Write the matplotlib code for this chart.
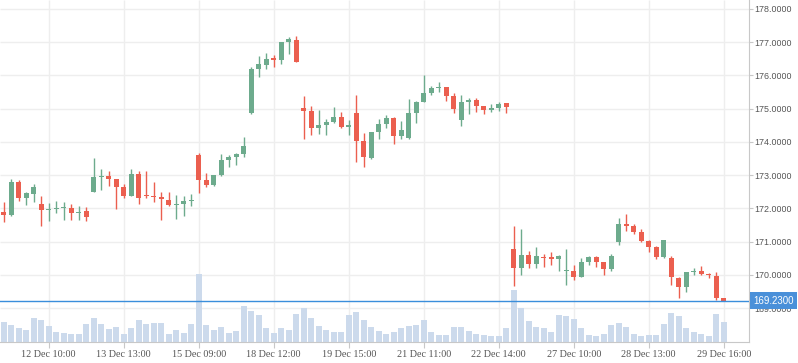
#%% Importing the Library

import matplotlib.pyplot as plt
import matplotlib.transforms as mtransforms
import numpy as np

#%% The Data (one candle per bar)

opens = [171.88, 171.79, 172.80, 172.33, 172.45, 172.14, 171.95, 171.97, 172.00, 172.02,
         171.85, 171.93, 172.51, 172.96, 172.98, 172.89, 172.65, 172.39, 173.04, 172.42,
         172.38, 172.35, 172.26, 172.12, 172.15, 172.23, 173.61, 172.86, 172.72, 173.01,
         173.46, 173.55, 173.64, 174.88, 176.19, 176.33, 176.52, 176.48, 177.00, 177.07,
         175.02, 174.94, 174.43, 174.51, 174.60, 174.75, 174.46, 174.87, 174.03, 173.51,
         174.30, 174.54, 174.72, 174.18, 174.12, 174.87, 175.20, 175.47, 175.63, 175.65,
         175.38, 174.66, 175.20, 175.26, 175.08, 174.97, 175.02, 175.16, 170.78, 170.22,
         170.60, 170.33, 170.54, 170.54, 170.48, 170.11, 170.12, 169.95, 170.39, 170.54,
         170.38, 170.18, 171.00, 171.53, 171.47, 171.29, 171.03, 170.84, 170.55, 170.51,
         169.91, 169.65, 170.10, 170.12, 170.04, 169.97, 169.31]
highs = [172.21, 172.89, 172.87, 172.50, 172.74, 172.38, 172.17, 172.23, 172.21, 172.14,
         172.08, 172.05, 173.52, 173.19, 173.13, 172.89, 172.74, 173.19, 173.13, 173.13,
         172.80, 172.50, 172.50, 172.41, 172.38, 172.44, 173.67, 173.07, 173.01, 173.64,
         173.61, 173.67, 174.15, 176.25, 176.59, 176.68, 176.62, 177.00, 177.17, 177.19,
         175.38, 175.08, 174.96, 174.69, 175.05, 174.90, 174.66, 175.41, 174.27, 174.30,
         174.69, 174.81, 174.75, 174.63, 175.29, 175.23, 176.01, 175.68, 175.80, 175.65,
         175.47, 175.41, 175.32, 175.32, 175.08, 175.14, 175.20, 175.16, 171.48, 171.38,
         170.72, 170.84, 170.63, 170.69, 170.60, 170.78, 170.30, 170.51, 170.57, 170.57,
         170.40, 170.63, 171.71, 171.83, 171.53, 171.38, 171.06, 170.87, 171.06, 170.57,
         169.94, 170.09, 170.21, 170.27, 170.06, 170.09, 169.31]
lows = [171.58, 171.78, 172.23, 172.09, 172.20, 171.46, 171.61, 171.85, 171.66, 171.64,
        171.66, 171.61, 172.51, 172.56, 172.69, 171.99, 172.33, 172.37, 172.15, 172.33,
        172.21, 171.66, 172.06, 171.68, 171.78, 172.06, 172.48, 172.66, 172.69, 172.99,
        173.26, 173.32, 173.55, 174.84, 175.95, 176.20, 176.25, 176.35, 176.65, 176.41,
        174.10, 174.22, 174.25, 174.21, 174.57, 174.42, 174.21, 173.40, 173.26, 173.48,
        174.09, 174.42, 173.95, 174.09, 174.09, 174.57, 175.20, 175.42, 175.50, 175.23,
        174.87, 174.48, 174.84, 174.90, 174.84, 174.90, 174.93, 174.88, 169.68, 170.01,
        170.21, 170.21, 170.24, 170.30, 170.12, 169.70, 169.85, 169.95, 170.30, 170.24,
        170.00, 170.12, 170.91, 171.33, 171.23, 171.00, 170.70, 170.48, 170.52, 169.70,
        169.32, 169.50, 170.00, 170.00, 169.91, 169.25, 169.23]
closes = [171.79, 172.80, 172.33, 172.47, 172.65, 171.96, 171.97, 171.99, 172.02, 171.85,
          171.90, 171.73, 172.95, 172.99, 172.90, 172.66, 172.39, 173.04, 172.33, 172.38,
          172.35, 172.30, 172.12, 172.15, 172.23, 172.25, 172.87, 172.72, 173.01, 173.46,
          173.55, 173.65, 173.88, 176.19, 176.34, 176.50, 176.48, 177.00, 177.10, 176.41,
          174.94, 174.43, 174.51, 174.60, 174.75, 174.45, 174.51, 174.04, 173.56, 174.30,
          174.54, 174.72, 174.18, 174.36, 174.87, 175.20, 175.47, 175.62, 175.65, 175.39,
          175.00, 175.20, 175.26, 175.09, 174.97, 175.02, 175.13, 175.06, 170.22, 170.60,
          170.33, 170.57, 170.51, 170.48, 170.57, 170.13, 169.95, 170.39, 170.54, 170.39,
          170.18, 170.57, 171.53, 171.48, 171.29, 171.03, 170.84, 170.55, 171.06, 169.95,
          169.65, 170.09, 170.12, 170.03, 170.01, 169.32, 169.23]
volumes = [20, 17, 14, 12, 24, 22, 16, 10, 9, 8,
           8, 18, 24, 18, 13, 15, 8, 14, 22, 18,
           19, 19, 8, 12, 9, 18, 68, 17, 12, 15,
           9, 11, 36, 31, 27, 14, 9, 14, 12, 28,
           34, 24, 16, 12, 10, 10, 27, 30, 22, 15,
           11, 8, 10, 14, 16, 17, 22, 10, 7, 7,
           15, 15, 11, 8, 7, 6, 6, 14, 52, 34,
           21, 15, 14, 10, 27, 26, 23, 14, 7, 6,
           8, 17, 19, 15, 8, 6, 7, 7, 18, 29,
           26, 14, 10, 8, 6, 28, 20]

tick_pos = [6, 16, 26, 36, 46, 56, 66, 76, 86, 96]
tick_labels = ['12 Dec 10:00', '13 Dec 13:00', '15 Dec 09:00', '18 Dec 12:00', '19 Dec 15:00',
               '21 Dec 11:00', '22 Dec 14:00', '27 Dec 10:00', '28 Dec 13:00', '29 Dec 16:00']
price_ticks = [169, 170, 171, 172, 173, 174, 175, 176, 177, 178]
last_price = 169.23

#%% Colours

up_col = '#6DAB8D'
down_col = '#EB5F4F'
vol_col = '#CCDAEC'
grid_col = '#EEEEEE'
axis_col = '#C8C8C8'
line_col = '#3A8EDB'

#%% Plotting

o = np.array(opens)
h = np.array(highs)
l = np.array(lows)
c = np.array(closes)
x = np.arange(len(o))
cols = np.where(c >= o, up_col, down_col)

fig = plt.figure(figsize=(7.98, 3.63), dpi=100)
ax = fig.add_axes([0, 21 / 363, 749 / 798, 342 / 363])
ax_vol = ax.twinx()
ax.set_zorder(ax_vol.get_zorder() + 1)
ax.patch.set_visible(False)

ax.set_xlim(-0.49, 99.37)
ax.set_ylim(167.985, 178.27)
ax_vol.set_ylim(0, 342)

#gridlines go on the bottom layer so the volume bars sit on top of them
hgrid = mtransforms.blended_transform_factory(ax_vol.transAxes, ax.transData)
ax_vol.hlines(price_ticks, 0, 1, transform=hgrid, color=grid_col, lw=1, zorder=0)
ax_vol.vlines(tick_pos, 0, 1, transform=ax_vol.get_xaxis_transform(), color=grid_col, lw=1, zorder=0)

ax_vol.bar(x, volumes, width=0.8, color=vol_col, zorder=1)
ax_vol.set_yticks([])
for s in ax_vol.spines.values():
    s.set_visible(False)

#candles
ax.vlines(x, l, h, colors=cols, lw=1, zorder=2)
body = np.maximum(np.abs(c - o), 0.03)
ax.bar(x, body, bottom=np.minimum(o, c), width=0.67, color=cols, lw=0, zorder=3)

ax.axhline(last_price, color=line_col, lw=1, zorder=4)

#axes styling
ax.spines['top'].set_visible(False)
ax.spines['left'].set_visible(False)
ax.spines['right'].set_color(axis_col)
ax.spines['bottom'].set_color(axis_col)

ax.yaxis.tick_right()
ax.set_yticks(price_ticks)
ax.set_yticklabels(['%.4f' % p for p in price_ticks], fontfamily='Liberation Sans', fontsize=6.4, color='#555555')
ax.tick_params(axis='y', length=3, color=axis_col, pad=1)

ax.set_xticks(tick_pos)
ax.set_xticklabels(tick_labels, fontfamily='Liberation Serif', fontsize=7.3, color='#555555')
ax.tick_params(axis='x', length=4, color=axis_col, pad=2)

#last price tag on the right axis
ax.text(1.006, last_price, '%.4f' % last_price, transform=ax.get_yaxis_transform(),
        ha='left', va='center', fontfamily='Liberation Sans', fontsize=7, color='white',
        bbox=dict(boxstyle='square,pad=0.35', fc='#4A90D9', ec='none'), zorder=10, clip_on=False)

plt.savefig('out.png', dpi=100)
